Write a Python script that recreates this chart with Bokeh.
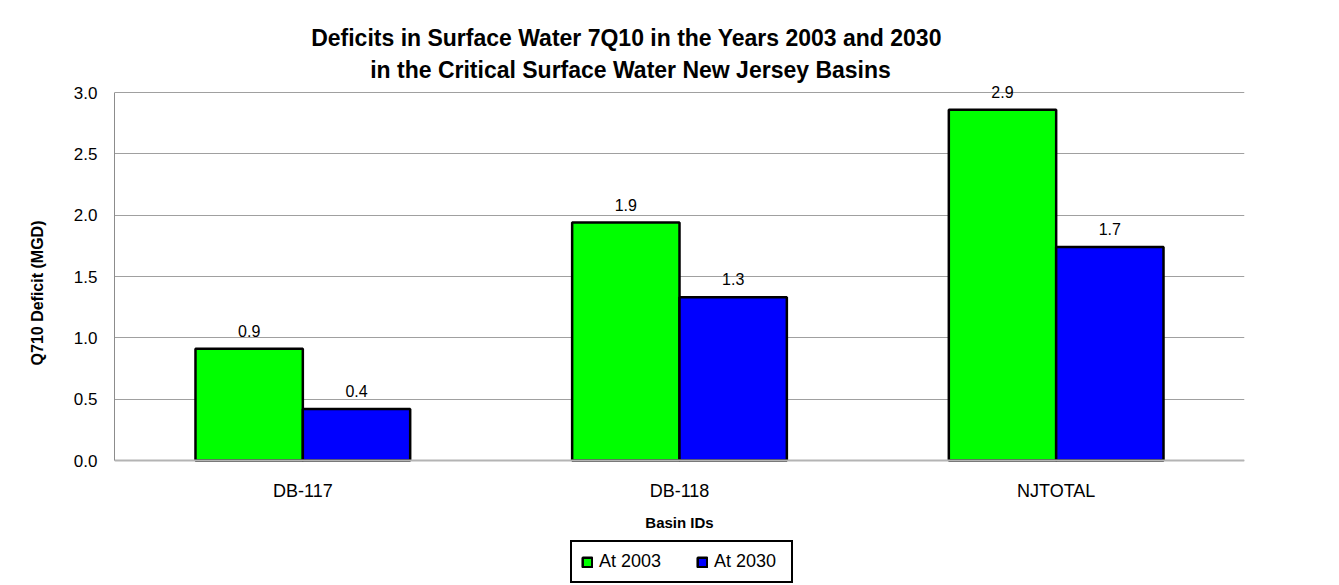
from bokeh.plotting import figure
from bokeh.models import (ColumnDataSource, FactorRange, Range1d, Legend, LegendItem,
                          PrintfTickFormatter, FixedTicker)
from bokeh.transform import dodge
from bokeh.core.properties import value
from bokeh.embed import file_html
from bokeh.resources import INLINE

# ---- data ----
basins = ["DB-117", "DB-118", "NJTOTAL"]
deficit_2003 = [0.91, 1.94, 2.86]
deficit_2030 = [0.42, 1.33, 1.74]
y_ticks = [0.0, 0.5, 1.0, 1.5, 2.0, 2.5, 3.0]
series_names = ["At 2003", "At 2030"]
series_colors = ["#00FF00", "#0000FF"]

title_lines = ["Deficits in Surface Water 7Q10 in the Years 2003 and 2030",
               "in the Critical Surface Water New Jersey Basins"]
x_label = "Basin IDs"
y_label = "Q710 Deficit (MGD)"

# ---- layout (pixels) ----
FONT = "Liberation Sans"
W, H = 1334, 585
FRAME_L, FRAME_R = 114, 1244
Y0_PX, Y3_PX = 460, 92            # where 0.0 and 3.0 sit
ppu = (Y0_PX - Y3_PX) / 3.0
y_top = Y0_PX / ppu
y_bot = -(H - Y0_PX) / ppu

src = ColumnDataSource(dict(
    basin=basins,
    d2003=deficit_2003,
    d2030=deficit_2030,
    l2003=[f"{v:.1f}" for v in deficit_2003],
    l2030=[f"{v:.1f}" for v in deficit_2030],
))

p = figure(
    x_range=FactorRange(factors=basins),
    y_range=Range1d(y_bot, y_top),
    width=W, height=H,
    output_backend="svg", toolbar_location=None,
    min_border_left=FRAME_L, min_border_right=W - FRAME_R,
    min_border_top=0, min_border_bottom=0,
)
p.outline_line_color = None
p.background_fill_color = "white"
p.border_fill_color = "white"
p.extra_y_ranges = {"py": Range1d(H, 0)}

# title: two lines, anchored on the middle category and shifted left in pixels
tsrc = ColumnDataSource(dict(x=[basins[1], basins[1]], y=[37, 69], dx=[-53, -49], t=title_lines))
p.text(x="x", y="y", x_offset="dx", text="t", source=tsrc, y_range_name="py",
       text_align="center", text_baseline="alphabetic",
       text_font=value(FONT), text_font_size="23px", text_font_style="bold",
       text_color="black")

bw = 0.285
r1 = p.vbar(x=dodge("basin", -bw / 2, range=p.x_range), top="d2003", width=bw, source=src,
            fill_color=series_colors[0], line_color="black", line_width=2.5)
r2 = p.vbar(x=dodge("basin", bw / 2, range=p.x_range), top="d2030", width=bw, source=src,
            fill_color=series_colors[1], line_color="black", line_width=2.5)

for col, lab, off in (("d2003", "l2003", -bw / 2), ("d2030", "l2030", bw / 2)):
    p.text(x=dodge("basin", off, range=p.x_range), y=col, text=lab, source=src,
           text_align="center", text_baseline="middle", y_offset=-18,
           text_font=value(FONT), text_font_size="16px", text_color="black")

# y axis
p.yaxis.bounds = (0, 3)
p.yaxis.ticker = FixedTicker(ticks=y_ticks)
p.yaxis.formatter = PrintfTickFormatter(format="%.1f")
p.yaxis.axis_line_color = "#8c8c8c"
p.yaxis.major_tick_line_color = None
p.yaxis.minor_tick_line_color = None
p.yaxis.major_tick_out = 0
p.yaxis.major_label_standoff = 17
p.yaxis.major_label_text_font = FONT
p.yaxis.major_label_text_font_size = "17px"
p.yaxis.major_label_text_color = "black"
p.yaxis.axis_label = y_label
p.yaxis.axis_label_text_font = FONT
p.yaxis.axis_label_text_font_size = "16px"
p.yaxis.axis_label_text_font_style = "bold"
p.yaxis.axis_label_text_color = "black"
p.yaxis.axis_label_standoff = 25

# x axis drawn at y = 0 inside the frame
p.xaxis.fixed_location = 0
p.xaxis.axis_line_color = "#b4b4b4"
p.xaxis.axis_line_width = 2
p.xaxis.major_tick_line_color = None
p.xaxis.minor_tick_line_color = None
p.xaxis.major_tick_out = 0
p.xaxis.major_label_standoff = 20
p.xaxis.major_label_text_font = FONT
p.xaxis.major_label_text_font_size = "18px"
p.xaxis.major_label_text_color = "black"
p.xaxis.axis_label = x_label
p.xaxis.axis_label_text_font = FONT
p.xaxis.axis_label_text_font_size = "15px"
p.xaxis.axis_label_text_font_style = "bold"
p.xaxis.axis_label_text_color = "black"
p.xaxis.axis_label_standoff = 10

p.xgrid.grid_line_color = None
p.ygrid.grid_line_color = "#a0a0a0"
p.ygrid.grid_line_width = 1

legend = Legend(items=[LegendItem(label=series_names[0], renderers=[r1]),
                       LegendItem(label=series_names[1], renderers=[r2])],
                orientation="horizontal", location=(456, 2), margin=0,
                border_line_color="black", border_line_width=2, border_line_alpha=1.0,
                padding=9, spacing=29, label_standoff=6, label_width=68,
                glyph_width=12, glyph_height=12,
                label_text_font=FONT, label_text_font_size="18px", label_text_color="black",
                background_fill_color="white", background_fill_alpha=1.0)
p.add_layout(legend, "center")

open("out.html", "w").write(file_html(p, INLINE))
